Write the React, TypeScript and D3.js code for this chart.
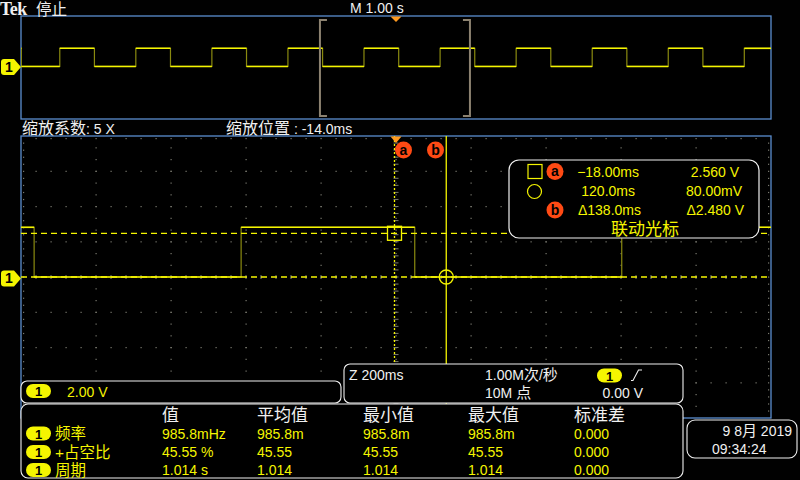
import React from "react";
import * as d3 from "d3";

const risingEdgesS = [-4.483, -3.469, -2.455, -1.441, -0.427, 0.588, 1.602, 2.616, 3.63, 4.644];
const fallingEdgesS = [-4.995, -4.021, -3.007, -1.993, -0.979, 0.036, 1.05, 2.064, 3.078, 4.092];
const levelHighV = 2.9;
const levelLowV = 0.08;

const mainWindowS = [-5, 5];
const zoomWindowMs = [-1014, 986];
const zoomCenterMs = -14;
const voltsRange = [-8, 8];

const cursorA = { t: -18, v: 2.56 };
const cursorB = { t: 120, v: 0.08 };
const cursorTimeTexts = ["\u221218.00ms", "120.0ms", "\u0394138.0ms"];
const cursorVoltTexts = ["2.560 V", "80.00mV", "\u03942.480 V"];

const measHeaders = ["值", "平均值", "最小值", "最大值", "标准差"];
const measNames = ["频率", "+占空比", "周期"];
const measValue = ["985.8mHz", "45.55 %", "1.014 s"];
const measMean = ["985.8m", "45.55", "1.014"];
const measMin = ["985.8m", "45.55", "1.014"];
const measMax = ["985.8m", "45.55", "1.014"];
const measStd = ["0.000", "0.000", "0.000"];

// ---------- style ----------
const BLUE = "#5b8ed0";
const YEL = "#f5f500";
const DIM = "#8a8a10";
const ORANGE = "#ff4a14";
const WHITE = "#f0f0f0";
const GRID = "#7a7a70";
const LAT = "'Liberation Sans', Arial, sans-serif";
const CJK = "'Noto Sans CJK SC', sans-serif";
const MIX = "'Liberation Sans', 'Noto Sans CJK SC', sans-serif";

type Pt = { t: number; v: number };

function buildSteps(t0: number, t1: number, scale: number): Pt[] {
  const edges = [
    ...risingEdgesS.map((e) => ({ t: e * scale, v: levelHighV })),
    ...fallingEdgesS.map((e) => ({ t: e * scale, v: levelLowV })),
  ]
    .filter((e) => e.t > t0 && e.t < t1)
    .sort((a, b) => a.t - b.t);
  const first = edges.length ? (edges[0].v === levelHighV ? levelLowV : levelHighV) : levelLowV;
  const pts: Pt[] = [{ t: t0, v: first }];
  edges.forEach((e) => pts.push(e));
  pts.push({ t: t1, v: pts[pts.length - 1].v });
  return pts;
}

function Wave({ pts, x, y }: { pts: Pt[]; x: d3.ScaleLinear<number, number>; y: d3.ScaleLinear<number, number> }) {
  const line = d3
    .line<Pt>()
    .x((d) => x(d.t))
    .y((d) => y(d.v))
    .curve(d3.curveStepAfter);
  const segs = pts.slice(0, -1).map((p, i) => ({ a: p.t, b: pts[i + 1].t, v: p.v }));
  return (
    <g>
      <path d={line(pts) || ""} fill="none" stroke={DIM} strokeWidth={1.2} />
      {segs.map((s, i) => (
        <line key={i} x1={x(s.a)} x2={x(s.b)} y1={y(s.v)} y2={y(s.v)} stroke={YEL} strokeWidth={1.6} />
      ))}
    </g>
  );
}

function Pill({ x, y }: { x: number; y: number }) {
  return (
    <g>
      <rect x={x} y={y - 7} width={25} height={14} rx={7} fill={YEL} />
      <text x={x + 12.5} y={y + 5} textAnchor="middle" fontFamily={LAT} fontWeight="bold" fontSize={13} fill="#000">
        1
      </text>
    </g>
  );
}

function GroundMarker({ y }: { y: number }) {
  return (
    <g>
      <path d={`M4,${y - 8} H14 L21,${y} L14,${y + 8} H4 Q1,${y + 8} 1,${y + 5} V${y - 5} Q1,${y - 8} 4,${y - 8} Z`} fill={YEL} />
      <text x={9} y={y + 5} textAnchor="middle" fontFamily={LAT} fontWeight="bold" fontSize={14} fill="#000">
        1
      </text>
    </g>
  );
}

function CursorBadge({ cx, cy, label }: { cx: number; cy: number; label: string }) {
  return (
    <g>
      <circle cx={cx} cy={cy} r={8.5} fill={ORANGE} />
      <text x={cx} y={cy + 4.5} textAnchor="middle" fontFamily={LAT} fontWeight="bold" fontSize={14} fill="#000">
        {label}
      </text>
    </g>
  );
}

export default function App() {
  const top = { x0: 21, x1: 771, y0: 16, y1: 119 };
  const zp = { x0: 21, x1: 771, y0: 136, y1: 418 };

  const xTop = d3.scaleLinear().domain(mainWindowS).range([top.x0, top.x1]);
  const yTop = d3
    .scaleLinear()
    .domain([voltsRange[0] - 0.08, voltsRange[1] - 0.08])
    .range([top.y1, top.y0]);
  const xZ = d3.scaleLinear().domain(zoomWindowMs).range([zp.x0, zp.x1]);
  const yZ = d3
    .scaleLinear()
    .domain([voltsRange[0] + 0.08, voltsRange[1] + 0.08])
    .range([zp.y1, zp.y0]);

  const topPts = buildSteps(mainWindowS[0], mainWindowS[1], 1);
  const zoomPts = buildSteps(zoomWindowMs[0], zoomWindowMs[1], 1000);

  const divX = (zp.x1 - zp.x0) / 10;
  const divY = (zp.y1 - zp.y0) / 8;
  const gridDots: JSX.Element[] = [];
  for (let i = 1; i < 10; i++) {
    const gx = zp.x0 + i * divX;
    for (let k = 1; k < 24; k++) {
      const gy = zp.y0 + (k * divY) / 3;
      gridDots.push(<rect key={`v${i}-${k}`} x={gx - 0.5} y={gy - 0.5} width={1.2} height={1.2} fill={GRID} />);
    }
  }
  for (let j = 1; j < 8; j++) {
    const gy = zp.y0 + j * divY;
    for (let k = 1; k < 50; k++) {
      const gx = zp.x0 + (k * divX) / 5;
      gridDots.push(<rect key={`h${j}-${k}`} x={gx - 0.5} y={gy - 0.5} width={1.2} height={1.2} fill={GRID} />);
    }
  }
  // edge ticks
  for (let k = 1; k < 50; k++) {
    const gx = zp.x0 + (k * divX) / 5;
    gridDots.push(<rect key={`te${k}`} x={gx - 0.5} y={zp.y0 + 2} width={1.2} height={1.2} fill={GRID} />);
  }
  for (let k = 1; k < 40; k++) {
    const gy = zp.y0 + (k * divY) / 5;
    gridDots.push(<rect key={`le${k}`} x={zp.x0 + 2} y={gy - 0.5} width={1.2} height={1.2} fill={GRID} />);
    gridDots.push(<rect key={`re${k}`} x={zp.x1 - 3} y={gy - 0.5} width={1.2} height={1.2} fill={GRID} />);
  }
  const cx = zp.x0 + 5 * divX;
  const cy = zp.y0 + 4 * divY;
  const centerTicks: JSX.Element[] = [];
  for (let k = 1; k < 40; k++) {
    const gy = zp.y0 + (k * divY) / 5;
    centerTicks.push(<line key={`cv${k}`} x1={cx - 2.5} x2={cx + 2.5} y1={gy} y2={gy} stroke={GRID} strokeWidth={1} />);
  }
  for (let k = 1; k < 50; k++) {
    const gx = zp.x0 + (k * divX) / 5;
    centerTicks.push(<line key={`ch${k}`} x1={gx} x2={gx} y1={cy - 2} y2={cy + 2} stroke={GRID} strokeWidth={1} />);
  }

  const xa = xZ(cursorA.t);
  const xb = xZ(cursorB.t);
  const ya = yZ(cursorA.v);
  const yb = yZ(cursorB.v);

  const bracketL = xTop(zoomWindowMs[0] / 1000);
  const bracketR = xTop(zoomWindowMs[1] / 1000);

  const colX = [162, 257, 363, 468, 574];
  const rowY = [433.5, 452, 470];
  const measCols = [measValue, measMean, measMin, measMax, measStd];

  return (
    <svg width={800} height={480} style={{ position: "absolute", left: 0, top: 0, background: "#000" }}>
      <rect x={0} y={0} width={800} height={480} fill="#010101" />
      <defs>
        <clipPath id="clipTop">
          <rect x={top.x0} y={top.y0} width={top.x1 - top.x0} height={top.y1 - top.y0} />
        </clipPath>
        <clipPath id="clipZoom">
          <rect x={zp.x0} y={zp.y0} width={zp.x1 - zp.x0} height={zp.y1 - zp.y0} />
        </clipPath>
      </defs>

      {/* top overview panel */}
      <rect x={top.x0} y={top.y0} width={top.x1 - top.x0} height={top.y1 - top.y0} fill="#000" stroke={BLUE} strokeWidth={1.3} />
      <g clipPath="url(#clipTop)">
        <Wave pts={topPts} x={xTop} y={yTop} />
      </g>
      <path d={`M${bracketL + 7},20 H${bracketL} V116 H${bracketL + 7}`} fill="none" stroke="#8c8270" strokeWidth={2} />
      <path d={`M${bracketR - 7},20 H${bracketR} V116 H${bracketR - 7}`} fill="none" stroke="#8c8270" strokeWidth={2} />
      <path d={`M${xTop(0) - 5.5},16.5 L${xTop(0) + 5.5},16.5 L${xTop(0)},22 Z`} fill="#ff9a20" />
      <GroundMarker y={yTop(0)} />

      {/* header */}
      <text x={0} y={15} fontFamily="'Liberation Serif', serif" fontWeight="bold" fontSize={18} fill={WHITE} letterSpacing={-0.5}>
        Tek
      </text>
      <text x={36} y={15} fontFamily={MIX} fontSize={15.5} fill={WHITE}>
        停止
      </text>
      <text x={350} y={13} fontFamily={LAT} fontSize={14} fill={WHITE}>
        M 1.00 s
      </text>

      {/* zoom info line */}
      <text x={22} y={134} fontFamily={CJK} fontSize={16} fill={WHITE}>
        缩放系数<tspan fontFamily={LAT} fontSize={14}>: 5 X</tspan>
      </text>
      <text x={226} y={134} fontFamily={CJK} fontSize={16} fill={WHITE}>
        缩放位置<tspan fontFamily={LAT} fontSize={14}> :  -14.0ms</tspan>
      </text>

      {/* zoom panel */}
      <rect x={zp.x0} y={zp.y0} width={zp.x1 - zp.x0} height={zp.y1 - zp.y0} fill="#000" stroke={BLUE} strokeWidth={1.3} />
      <g clipPath="url(#clipZoom)">
        {gridDots}
        {centerTicks}
        <Wave pts={zoomPts} x={xZ} y={yZ} />
        <line x1={zp.x0} x2={zp.x1} y1={ya} y2={ya} stroke={YEL} strokeWidth={1.3} strokeDasharray="6,4" />
        <line x1={zp.x0} x2={zp.x1} y1={yb} y2={yb} stroke={YEL} strokeWidth={1.3} strokeDasharray="6,4" />
        <line x1={xa} x2={xa} y1={zp.y0} y2={zp.y1} stroke={YEL} strokeWidth={1.3} strokeDasharray="2,2" />
        <line x1={xb} x2={xb} y1={zp.y0} y2={zp.y1} stroke={YEL} strokeWidth={1.3} />
        <rect x={xa - 7} y={ya - 7} width={14} height={14} fill="none" stroke={YEL} strokeWidth={1.3} />
        <circle cx={xb} cy={yb} r={7} fill="none" stroke={YEL} strokeWidth={1.3} />
      </g>
      <path d={`M${xZ(zoomCenterMs) - 5.5},136.5 L${xZ(zoomCenterMs) + 5.5},136.5 L${xZ(zoomCenterMs)},143 Z`} fill="#ff9a20" />
      <CursorBadge cx={403.5} cy={150} label="a" />
      <CursorBadge cx={435.5} cy={150} label="b" />
      <GroundMarker y={yZ(0)} />

      {/* cursor readout */}
      <rect x={509} y={160} width={250} height={78} rx={10} fill="#000" stroke={WHITE} strokeWidth={1.2} />
      <rect x={528} y={164.5} width={14} height={14} fill="none" stroke={YEL} strokeWidth={1.2} />
      <circle cx={534.5} cy={191.5} r={7} fill="none" stroke={YEL} strokeWidth={1.2} />
      <CursorBadge cx={555} cy={171.5} label="a" />
      <CursorBadge cx={555} cy={210} label="b" />
      {[177, 196, 215].map((by, i) => (
        <g key={i} fontFamily={LAT} fontSize={14} fill={YEL}>
          <text x={[639, 635, 641][i]} y={by} textAnchor="end">
            {cursorTimeTexts[i]}
          </text>
          <text x={[739, 742, 744][i]} y={by} textAnchor="end">
            {cursorVoltTexts[i]}
          </text>
        </g>
      ))}
      <text x={645} y={235} textAnchor="middle" fontFamily={CJK} fontSize={17} fill={YEL}>
        联动光标
      </text>

      {/* channel box */}
      <rect x={21} y={381} width={320} height={22} rx={6} fill="#000" stroke={WHITE} strokeWidth={1.1} />
      <Pill x={26} y={391} />
      <text x={67} y={397} fontFamily={LAT} fontSize={14} fill={YEL}>
        2.00 V
      </text>

      {/* horizontal / trigger box */}
      <rect x={344} y={364} width={339} height={39} rx={6} fill="#000" stroke={WHITE} strokeWidth={1.1} />
      <text x={349} y={380} fontFamily={LAT} fontSize={14} fill={WHITE}>
        Z 200ms
      </text>
      <text x={485} y={380} fontFamily={LAT} fontSize={14} fill={WHITE}>
        1.00M<tspan fontFamily={CJK} fontSize={15}>次</tspan>/<tspan fontFamily={CJK} fontSize={15}>秒</tspan>
      </text>
      <text x={485} y={398} fontFamily={LAT} fontSize={14} fill={WHITE}>
        10M <tspan fontFamily={CJK} fontSize={15}>点</tspan>
      </text>
      <Pill x={597} y={375.5} />
      <path d="M631,380.5 H633 L638.5,370 H642" fill="none" stroke={WHITE} strokeWidth={1.1} />
      <text x={643} y={398} textAnchor="end" fontFamily={LAT} fontSize={14} fill={WHITE}>
        0.00 V
      </text>

      {/* measurement table */}
      <rect x={21} y={404} width={662} height={74} rx={7} fill="#000" stroke={WHITE} strokeWidth={1.1} />
      {measHeaders.map((h, i) => (
        <text key={h} x={colX[i]} y={421} fontFamily={CJK} fontSize={17} fill={WHITE}>
          {h}
        </text>
      ))}
      {measNames.map((n, r) => (
        <g key={n}>
          <Pill x={26} y={rowY[r]} />
          <text x={55} y={rowY[r] + 5.5} fontFamily={MIX} fontSize={15.5} fill={YEL}>
            {n}
          </text>
          {measCols.map((col, c) => (
            <text key={c} x={colX[c]} y={rowY[r] + 5} fontFamily={LAT} fontSize={14} fill={YEL}>
              {col[r]}
            </text>
          ))}
        </g>
      ))}

      {/* date box */}
      <rect x={687} y={420} width={110} height={38} rx={8} fill="#000" stroke={WHITE} strokeWidth={1.1} />
      <text x={792} y={436} textAnchor="end" fontFamily={LAT} fontSize={14} fill={WHITE}>
        9 8<tspan fontFamily={CJK} fontSize={15}>月</tspan> 2019
      </text>
      <text x={712} y={454} fontFamily={LAT} fontSize={14} fill={WHITE}>
        09:34:24
      </text>
    </svg>
  );
}
